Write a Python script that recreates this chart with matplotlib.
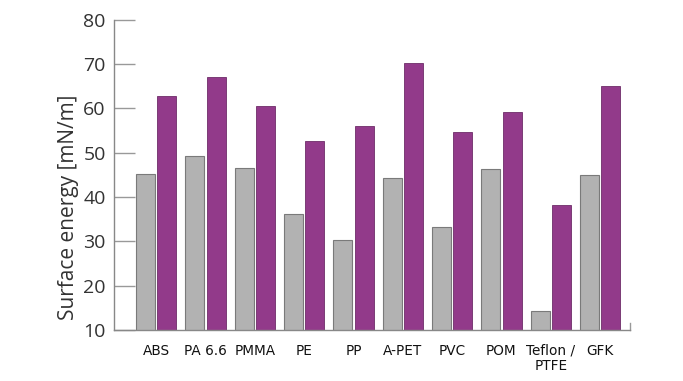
import matplotlib

matplotlib.use("Agg")
import matplotlib.pyplot as plt
import numpy as np

materials = ["ABS", "PA 6.6", "PMMA", "PE", "PP", "A-PET", "PVC", "POM", "Teflon /\nPTFE", "GFK"]
untreated = [45.2, 49.3, 46.5, 36.1, 30.3, 44.2, 33.3, 46.3, 14.3, 45.0]
treated = [62.9, 67.2, 60.6, 52.7, 56.0, 70.3, 54.7, 59.2, 38.2, 65.1]

GRAY = "#b2b2b2"
PURPLE = "#923a8a"

fig = plt.figure(figsize=(6.83, 3.81), dpi=100)
ax = fig.add_axes([0.167, 0.134, 0.756, 0.814])

x = np.arange(len(materials))
w = 0.385
ax.bar(x - 0.215, untreated, width=w, bottom=0, color=GRAY, edgecolor="#7a7a7a", linewidth=0.8)
ax.bar(x + 0.215, treated, width=w, bottom=0, color=PURPLE, edgecolor="#6e2c68", linewidth=0.6)

ax.set_ylim(10, 80)
ax.set_xlim(-0.852, 9.615)
ax.set_yticks(range(10, 81, 10))
ax.set_xticks(x)
ax.set_xticklabels(materials, family=["DejaVu Sans"], fontsize=9.8,
                   color="#111111", linespacing=1.1)
for lab in ax.get_yticklabels():
    lab.set_family(["Open Sans", "DejaVu Sans"])
    lab.set_fontsize(14)
    lab.set_color("#333333")
ax.tick_params(axis="y", direction="in", length=15, width=1, color="#999999", pad=6)
ax.tick_params(axis="x", length=0, pad=10)

for s in ["top", "right"]:
    ax.spines[s].set_visible(False)
for s in ["left", "bottom"]:
    ax.spines[s].set_color("#888888")
    ax.spines[s].set_linewidth(1.0)
# small end tick at the right of the x axis
ax.plot([9.615, 9.615], [10, 11.5], color="#999999", lw=1, clip_on=False)

ax.set_ylabel("Surface energy [mN/m]", family=["Open Sans", "DejaVu Sans"], fontsize=15,
              color="#333333")
ax.yaxis.set_label_coords(-0.068, 0.397)

fig.savefig("out.png", dpi=100)
